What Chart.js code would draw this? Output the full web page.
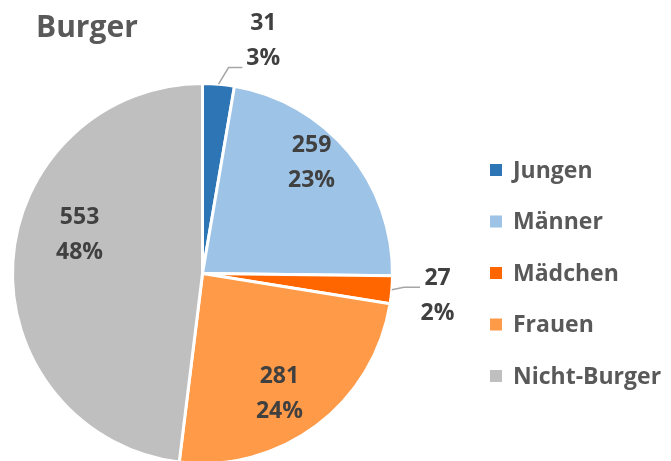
<!DOCTYPE html>
<html>
<head>
<meta charset="utf-8">
<script src="https://cdn.jsdelivr.net/npm/chart.js@4/dist/chart.umd.min.js"></script>
<style>
  html, body { margin: 0; padding: 0; background: #fff; overflow: hidden; }
  #wrap { position: absolute; left: 0; top: 0; width: 671px; height: 470px; }
</style>
</head>
<body>
<div id="wrap"><canvas id="c" width="671" height="470"></canvas></div>
<script>
// Burger pie — counts per group, labels show count + rounded share.
const titleText = 'Burger';
const groups = ['Jungen', 'Männer', 'Mädchen', 'Frauen', 'Nicht-Burger'];
const counts = [31, 259, 27, 281, 553];
const colours = ['#2E75B6', '#9DC3E6', '#FF6600', '#FF9A48', '#BFBFBF'];

// label anchors relative to pie centre, in units of the radius (Excel "best fit" look)
const labelSpots = [[0.32, -1.23], [0.574, -0.589], [1.237, 0.111], [0.405, 0.626], [-0.647, -0.211]];
// leader lines for the two small outside slices: elbow + end, also in radius units
const leaders = { 0: [[0.137, -1.084], [0.21, -1.084]], 2: [[1.06, 0.073], [1.145, 0.073]] };

const FONT = '"Open Sans", Lato, sans-serif';

const annotate = {
  id: 'annotate',
  afterDraw(chart) {
    const ctx = chart.ctx;
    const meta = chart.getDatasetMeta(0);
    const total = counts.reduce((a, b) => a + b, 0);
    ctx.save();

    // title
    ctx.fillStyle = '#595959';
    ctx.font = `bold 30px ${FONT}`;
    ctx.textAlign = 'left';
    ctx.textBaseline = 'middle';
    ctx.fillText(titleText, 36, 28);

    // data labels
    meta.data.forEach((arc, i) => {
      const { x, y, outerRadius: r, startAngle, endAngle } = arc.getProps(['x', 'y', 'outerRadius', 'startAngle', 'endAngle'], true);
      if (leaders[i]) {
        const mid = (startAngle + endAngle) / 2;
        ctx.strokeStyle = '#A6A6A6';
        ctx.lineWidth = 1.5;
        ctx.beginPath();
        ctx.moveTo(x + Math.cos(mid) * r, y + Math.sin(mid) * r);
        for (const [fx, fy] of leaders[i]) ctx.lineTo(x + fx * r, y + fy * r);
        ctx.stroke();
      }
      const [fx, fy] = labelSpots[i];
      const lx = x + fx * r, ly = y + fy * r;
      ctx.fillStyle = '#404040';
      ctx.font = `bold 23px ${FONT}`;
      ctx.textAlign = 'center';
      ctx.fillText(String(counts[i]), lx, ly - 16);
      ctx.fillText(Math.round(counts[i] / total * 100) + '%', lx, ly + 19);
    });

    // legend
    groups.forEach((g, i) => {
      const yy = 170 + i * 51.5;
      ctx.fillStyle = colours[i];
      ctx.fillRect(490, yy - 6, 12, 12);
      ctx.fillStyle = '#595959';
      ctx.font = `bold 23px ${FONT}`;
      ctx.textAlign = 'left';
      ctx.fillText(g, 513, yy + 1);
    });
    ctx.restore();
  }
};

new Chart(document.getElementById('c'), {
  type: 'pie',
  data: {
    labels: groups,
    datasets: [{
      data: counts,
      backgroundColor: colours,
      borderColor: '#ffffff',
      borderWidth: 3,
    }],
  },
  options: {
    responsive: false,
    animation: false,
    layout: { padding: { left: 10, top: 82, right: 276, bottom: 5 } },
    plugins: {
      legend: { display: false },
      tooltip: { enabled: false },
    },
  },
  plugins: [annotate],
});
</script>
</body>
</html>
